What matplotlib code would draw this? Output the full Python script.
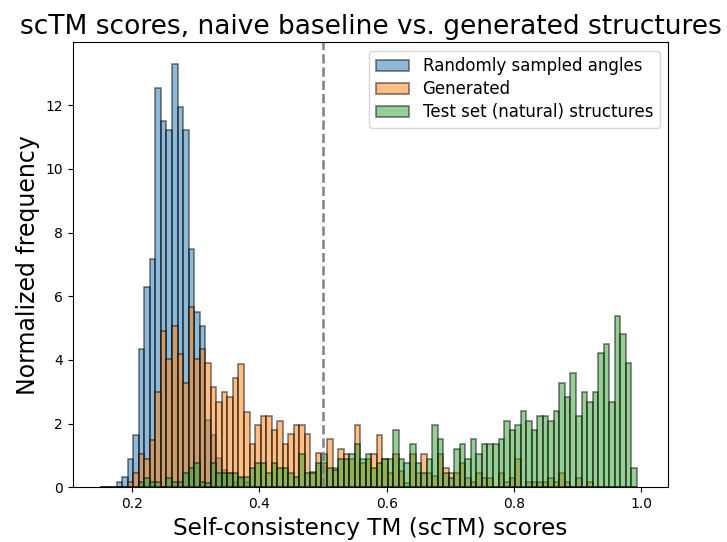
import numpy as np
import matplotlib.pyplot as plt

# shared bin edges (97 bins between 0.15 and 0.993)
edges = np.linspace(0.15, 0.993, 98)

# normalized frequency per bin
random_angles = [0, 0, 0, 0.16, 0.31, 0.9, 1.65, 4.34, 6.28, 7.17, 12.53, 11.52, 11.21, 13.30,
                 11.95, 11.21, 7.48, 5.52, 5.08, 2.11, 1.64, 0.91, 0.55, 0.44, 0.15, 0.3, 0.15] + [0] * 70

generated = [0, 0, 0, 0, 0, 0.16, 0.46, 1.05, 0.89, 1.49, 2.98, 4.92, 4.03, 5.07, 4.18, 3.29,
             5.67, 4.03, 4.34, 3.9, 3.15, 2.69, 2.99, 2.85, 3.43, 3.87, 2.38, 1.35, 1.96, 2.25,
             2.25, 1.8, 2.09, 1.35, 1.66, 1.96, 1.96, 1.66, 0.47, 1.07, 0.75, 1.51,
             0.6, 1.19, 1.05, 0.9, 1.96, 0.75, 0.88, 1.05, 1.64, 0.88, 0.44, 1.05, 0.5, 0.12,
             1.05, 0.44, 1.05, 0.44, 0.35, 1.05, 0.6, 0.44,
             0.46, 0.75, 0.3, 0.15, 0.46, 0.3, 0.3, 0, 0.46, 0.15, 0.3, 0.9, 0, 0.15, 0.15,
             0.15, 0.15, 0.3, 0.15, 0.46, 0.15, 0, 0.3, 0, 0.15, 0, 0, 0, 0, 0, 0, 0, 0]

test_set = [0, 0, 0, 0, 0, 0, 0, 0.15, 0.3, 0.15, 0.15, 0, 0.3, 0.15, 0.15, 0.45, 0.6, 0.75, 0.15,
            0.13, 0.75, 0.44, 0.44, 0.44, 0.44, 0.31, 0.31, 0.6, 0.75, 0.75, 0.44, 0.75, 0.6,
            0.6, 0.44, 0.31, 1.05, 0.44, 0.44, 0.75, 1.05, 0.6,
            0.55, 0.88, 0.88, 1.05, 1.36, 0.88, 1.05, 0.6, 0.75, 0.88, 0.88, 1.8, 0.88, 0.75,
            1.36, 0.75, 0.44, 0.88, 1.96, 1.51, 0.44, 0.3,
            1.19, 1.35, 0.9, 1.51, 1.05, 1.35, 1.35, 1.35, 1.51, 2.09, 1.80, 1.95, 2.40, 2.09,
            1.80, 2.25, 2.25, 2.09, 2.40, 3.29, 2.85, 3.58, 2.25, 2.98, 2.69, 2.98, 4.21, 4.49,
            2.69, 5.39, 4.81, 3.9, 0.6]

labels = ["Randomly sampled angles", "Generated", "Test set (natural) structures"]

fig, ax = plt.subplots(figsize=(7.27, 5.42), dpi=100)
fig.subplots_adjust(left=0.1, right=0.919, bottom=0.101, top=0.922)

for vals, lab in zip([random_angles, generated, test_set], labels):
    ax.hist(edges[:-1], bins=edges, weights=vals, alpha=0.5, edgecolor="black",
            linewidth=1.2, label=lab)

ax.axvline(0.5, color="grey", linestyle="--", linewidth=1.8)

ax.set_xlim(0.107, 1.042)
ax.set_ylim(0, 13.98)
ax.set_xlabel("Self-consistency TM (scTM) scores", fontsize=16.7)
ax.set_ylabel("Normalized frequency", fontsize=17)
ax.set_title("scTM scores, naive baseline vs. generated structures", fontsize=19)
ax.legend(loc="upper right", fontsize=12, labelspacing=0.3)

plt.savefig("out.png")
